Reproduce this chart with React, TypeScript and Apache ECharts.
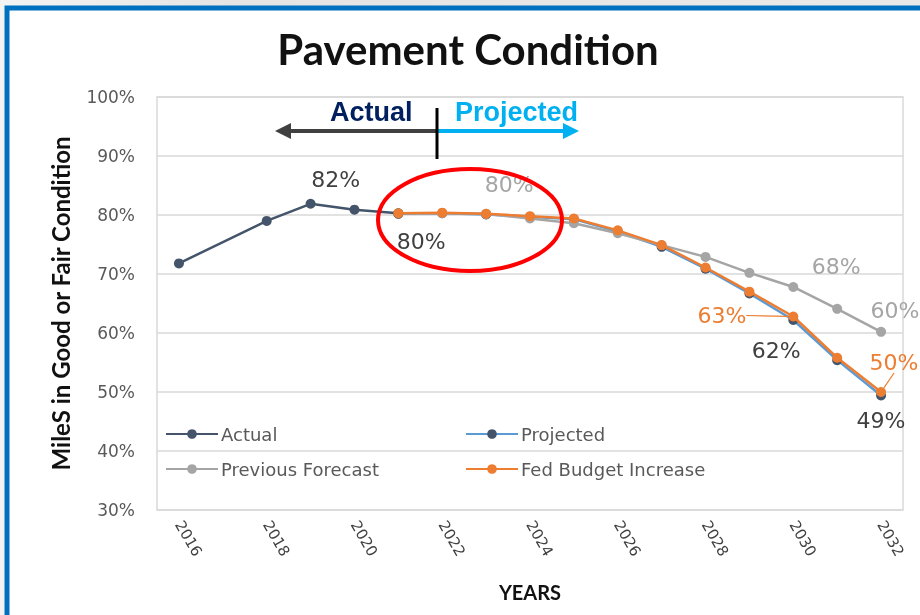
import React, { useEffect, useRef } from "react";
import * as echarts from "echarts";

const years = ["2016","2017","2018","2019","2020","2021","2022","2023","2024","2025","2026","2027","2028","2029","2030","2031","2032"];
const actual = [71.8, null, 79.0, 81.9, 80.9, 80.3, null, null, null, null, null, null, null, null, null, null, null];
const projected = [null, null, null, null, null, 80.2, 80.3, 80.1, 79.7, 79.3, 77.2, 74.6, 70.9, 66.7, 62.2, 55.4, 49.4];
const previousForecast = [null, null, null, null, null, 80.3, 80.3, 80.2, 79.4, 78.6, 76.9, 74.9, 72.9, 70.2, 67.8, 64.1, 60.2];
const fedBudgetIncrease = [null, null, null, null, null, 80.3, 80.4, 80.2, 79.8, 79.4, 77.4, 74.9, 71.1, 67.0, 62.8, 55.8, 50.0];
const yTicks = { min: 30, max: 100, interval: 10 };

const C_ACTUAL = "#44546A";
const C_PROJ = "#5B9BD5";
const C_PREV = "#A5A5A5";
const C_FED = "#ED7D31";
const C_LBL = "#404040";
const FONT = "DejaVu Sans";

const fmt = (v: number) => Math.round(v) + "%";

function withLabels(values: (number | null)[], labels: Record<number, any>) {
  return values.map((v, i) => {
    if (v === null) return null;
    const l = labels[i];
    if (!l) return v;
    return { value: v, label: { show: true, formatter: fmt(v), ...l } };
  });
}

export default function App() {
  const ref = useRef<HTMLDivElement>(null);
  useEffect(() => {
    if (!ref.current) return;
    const chart = echarts.init(ref.current, null, { renderer: "svg" });
    const lblBase = { fontFamily: FONT, fontSize: 22 };
    const option: any = {
      animation: false,
      graphic: {
        elements: [
          {
            type: "rect", silent: true, z: -20,
            shape: { x: 0, y: 0, width: 920, height: 615 },
            style: {
              fill: new echarts.graphic.LinearGradient(0, 0, 1, 0, [
                { offset: 0, color: "#f4f4f4" },
                { offset: 0.25, color: "#e4e4e4" },
                { offset: 1, color: "#e9e9e9" },
              ]),
            },
          },
          {
            type: "rect", silent: true, z: -19,
            shape: { x: 7, y: 8, width: 930, height: 620 },
            style: { fill: "#ffffff", stroke: "#0070C0", lineWidth: 5 },
          },
          {
            type: "text", z: 50, x: 468, y: 49,
            style: { text: "Pavement Condition", fill: "#111", font: "bold 42px Lato", align: "center", verticalAlign: "middle" },
          },
          {
            type: "text", z: 50, x: 330, y: 98,
            style: { text: "Actual", fill: "#002060", font: "bold 27px 'Liberation Sans'" },
          },
          {
            type: "text", z: 50, x: 455, y: 98,
            style: { text: "Projected", fill: "#00B0F0", font: "bold 27px 'Liberation Sans'" },
          },
          { type: "line", z: 50, shape: { x1: 437, y1: 131, x2: 288, y2: 131 }, style: { stroke: "#404040", lineWidth: 4 } },
          { type: "polygon", z: 50, shape: { points: [[275, 131], [291, 123], [291, 139]] }, style: { fill: "#404040" } },
          { type: "line", z: 50, shape: { x1: 437, y1: 131, x2: 566, y2: 131 }, style: { stroke: "#00B0F0", lineWidth: 4 } },
          { type: "polygon", z: 50, shape: { points: [[579, 131], [563, 123], [563, 139]] }, style: { fill: "#00B0F0" } },
          { type: "line", z: 51, shape: { x1: 437, y1: 108, x2: 437, y2: 159 }, style: { stroke: "#000", lineWidth: 3 } },
          { type: "ellipse", z: 60, shape: { cx: 470, cy: 220, rx: 92, ry: 51 }, style: { fill: "none", stroke: "#FF0000", lineWidth: 4 } },
        ],
      },
      grid: { left: 157, top: 97, right: 17, bottom: 105, show: true, borderColor: "#d9d9d9", borderWidth: 1.5, backgroundColor: "transparent" },
      legend: [
        { data: ["Actual"], left: 165, top: 425 },
        { data: ["Projected"], left: 465, top: 425 },
        { data: ["Previous Forecast"], left: 165, top: 460 },
        { data: ["Fed Budget Increase"], left: 465, top: 460 },
      ].map((l) => ({
        ...l, padding: 0, itemWidth: 52, itemHeight: 12, itemGap: 4,
        textStyle: { color: "#595959", fontSize: 18, fontFamily: FONT, padding: [0, 0, 0, -2] },
      })),
      xAxis: {
        type: "category", data: years, boundaryGap: true,
        name: "YEARS", nameLocation: "middle", nameGap: 72,
        nameTextStyle: { fontFamily: "Lato", fontWeight: "bold", fontSize: 20, color: "#111" },
        axisLine: { show: false }, axisTick: { show: false },
        axisLabel: { interval: 1, rotate: -60, color: "#404040", fontSize: 15, fontFamily: FONT, margin: 12 },
      },
      yAxis: {
        type: "value", min: yTicks.min, max: yTicks.max, interval: yTicks.interval,
        name: "MileS in Good or Fair Condition", nameLocation: "middle", nameRotate: 90, nameGap: 85,
        nameTextStyle: { fontFamily: "Lato", fontWeight: "bold", fontSize: 24, color: "#111" },
        axisLabel: { formatter: "{value}%", color: "#595959", fontSize: 17, fontFamily: FONT, margin: 22 },
        axisLine: { show: false }, axisTick: { show: false },
        splitLine: { lineStyle: { color: "#d9d9d9", width: 1.5 } },
      },
      series: [
        {
          name: "Projected", type: "line", z: 3,
          data: withLabels(projected, {
            6: { ...lblBase, position: "bottom", distance: 12, offset: [-21, 0], color: C_LBL },
            14: { ...lblBase, position: "bottom", distance: 14, offset: [-17, 0], color: C_LBL },
            16: { ...lblBase, position: "bottom", distance: 9, offset: [0, 0], color: C_LBL },
          }),
          symbol: "circle", symbolSize: 10,
          lineStyle: { color: C_PROJ, width: 2.5 }, itemStyle: { color: C_ACTUAL },
        },
        {
          name: "Previous Forecast", type: "line", z: 4,
          data: withLabels(previousForecast, {
            7: { ...lblBase, position: "top", distance: 13, offset: [23, 0], color: C_PREV },
            14: { ...lblBase, position: "top", distance: 4, offset: [43, 0], color: C_PREV },
            16: { ...lblBase, position: "top", distance: 5, offset: [14, 0], color: C_PREV },
          }),
          symbol: "circle", symbolSize: 10,
          lineStyle: { color: C_PREV, width: 2.5 }, itemStyle: { color: C_PREV },
        },
        {
          name: "Actual", type: "line", z: 5, connectNulls: true,
          data: withLabels(actual, {
            3: { ...lblBase, position: "top", distance: 8, offset: [25, 0], color: C_LBL },
          }),
          symbol: "circle", symbolSize: 10,
          lineStyle: { color: C_ACTUAL, width: 2.5 }, itemStyle: { color: C_ACTUAL },
        },
        {
          name: "Fed Budget Increase", type: "line", z: 6,
          data: withLabels(fedBudgetIncrease, {
            14: { ...lblBase, position: "left", distance: 4, color: C_FED },
            16: { ...lblBase, position: "top", distance: 4, color: C_FED },
          }),
          symbol: "circle", symbolSize: 10,
          lineStyle: { color: C_FED, width: 2.5 }, itemStyle: { color: C_FED },
          labelLine: { show: true, lineStyle: { color: C_FED, width: 1.2 } },
          labelLayout: (p: any) => {
            if (p.dataIndex === 14) return { dx: -38, dy: -1 };
            if (p.dataIndex === 16) return { dx: 13, dy: -10 };
            return {};
          },
        },
      ],
    };
    chart.setOption(option);
    return () => chart.dispose();
  }, []);
  return <div ref={ref} style={{ position: "fixed", left: 0, top: 0, width: 920, height: 615 }} />;
}
